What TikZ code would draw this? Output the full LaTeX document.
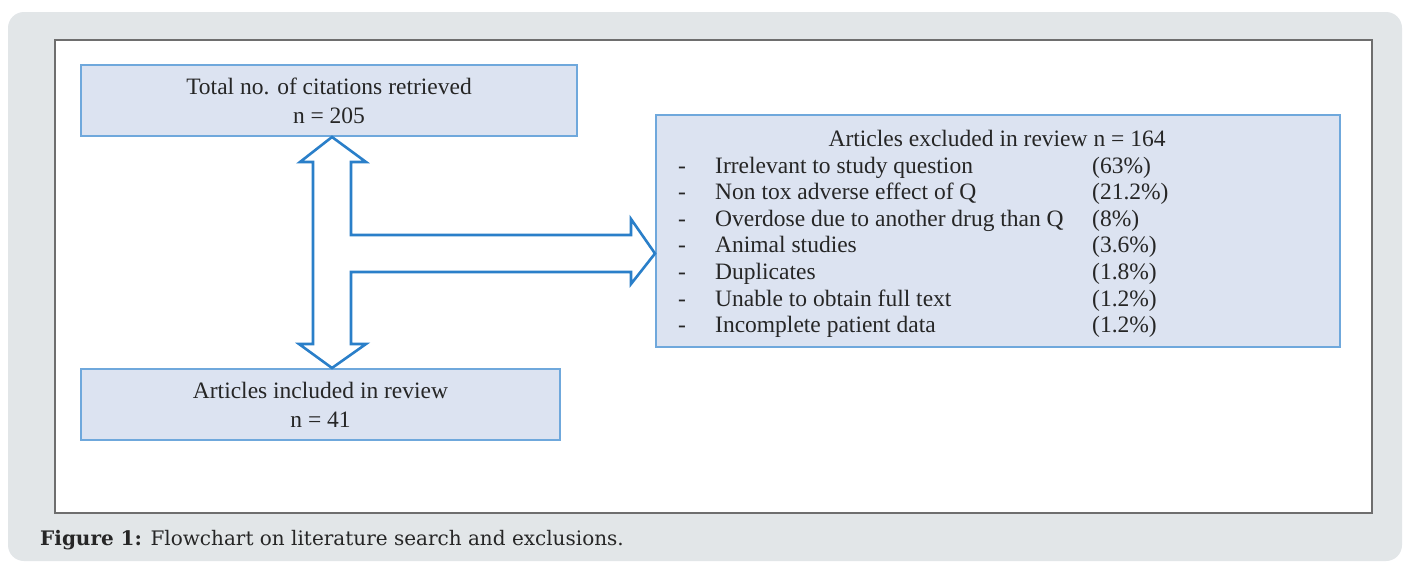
\documentclass[tikz,border=0pt]{standalone}
\usepackage{fontspec}
\setmainfont{Liberation Serif}
\newfontfamily\capfont{DejaVu Serif}
\usetikzlibrary{calc,positioning}
\definecolor{panelgray}{HTML}{E2E6E8}
\definecolor{framegray}{HTML}{6E6E6E}
\definecolor{boxfill}{HTML}{DCE3F1}
\definecolor{boxline}{HTML}{6FA8DC}
\definecolor{arrowblue}{HTML}{2A7FC9}
\definecolor{textgray}{HTML}{262626}

\tikzset{
  flowbox/.style={draw=boxline, line width=2pt, fill=boxfill, text=textgray,
    inner sep=0pt, align=center, font=\fontsize{23.5}{29}\selectfont},
  itemtext/.style={anchor=base west, inner sep=0pt, text=textgray, font=\fontsize{23.5}{26}\selectfont},
}

\begin{document}
\begin{tikzpicture}[x=1pt, y=-1pt]
\useasboundingbox (0,0) rectangle (1406,563);

% Panel and frame
\fill[white] (0,0) rectangle (1406,563);
\fill[panelgray, rounded corners=16pt] (8,12) rectangle (1402,561);
\draw[framegray, line width=1.5pt, fill=white] (55,40) rectangle (1372,513);

% Boxes
\node[flowbox, minimum width=496pt, minimum height=71pt] (total) at (329,100.5)
  {Total no. of citations retrieved\\ n = 205};
\node[flowbox, minimum width=479pt, minimum height=71pt] (included) at (320.5,404.5)
  {Articles included in review\\ n = 41};
\node[flowbox, minimum width=684pt, minimum height=232pt] (excluded) at (998,231) {};

% Excluded list
\node[itemtext, anchor=base] (title) at (997,146) {Articles excluded in review n = 164};
\foreach \k/\reason/\share in {0/Irrelevant to study question/(63\%),
    1/Non tox adverse effect  of Q/(21.2\%),
    2/Overdose due to another drug than Q/(8\%),
    3/Animal studies/(3.6\%),
    4/Duplicates/(1.8\%),
    5/Unable to obtain full text/(1.2\%),
    6/Incomplete patient data/(1.2\%)} {
  \pgfmathsetmacro{\y}{173 + \k*26.6}
  \node[itemtext] (dash\k) at (678,\y) {-};
  \node[itemtext] (reason\k) at (715,\y) {\reason};
  \node[itemtext] (share\k) at (1092,\y) {\share};
}

% Block arrow between the boxes
\coordinate (ax) at (332,0);
\coordinate (up) at (ax |- total.south);
\coordinate (down) at (ax |- included.north);
\coordinate (right) at (excluded.west |- 0,253.5);
\draw[arrowblue, line width=2.6pt, fill=white, line join=miter]
  (up) -- ++(34,25) -- ++(-15,0) |- ($(right)+(-24,-18.5)$) -- ++(0,-16)
  -- (right) -- ++(-24,30.5) -- ++(0,-12) -| ($(down)+(19,-24)$) -- ++(15,0)
  -- (down) -- ++(-33,-24) -- ++(14,0) -- ($(up)+(-19,25)$) -- ++(-13,0) -- cycle;

% Caption
\node[anchor=base west, inner sep=0pt, text=textgray, font=\capfont\fontsize{20}{24}\selectfont] (caption) at (40,545)
  {\textbf{Figure 1:} Flowchart on literature search and exclusions.};
\end{tikzpicture}
\end{document}
